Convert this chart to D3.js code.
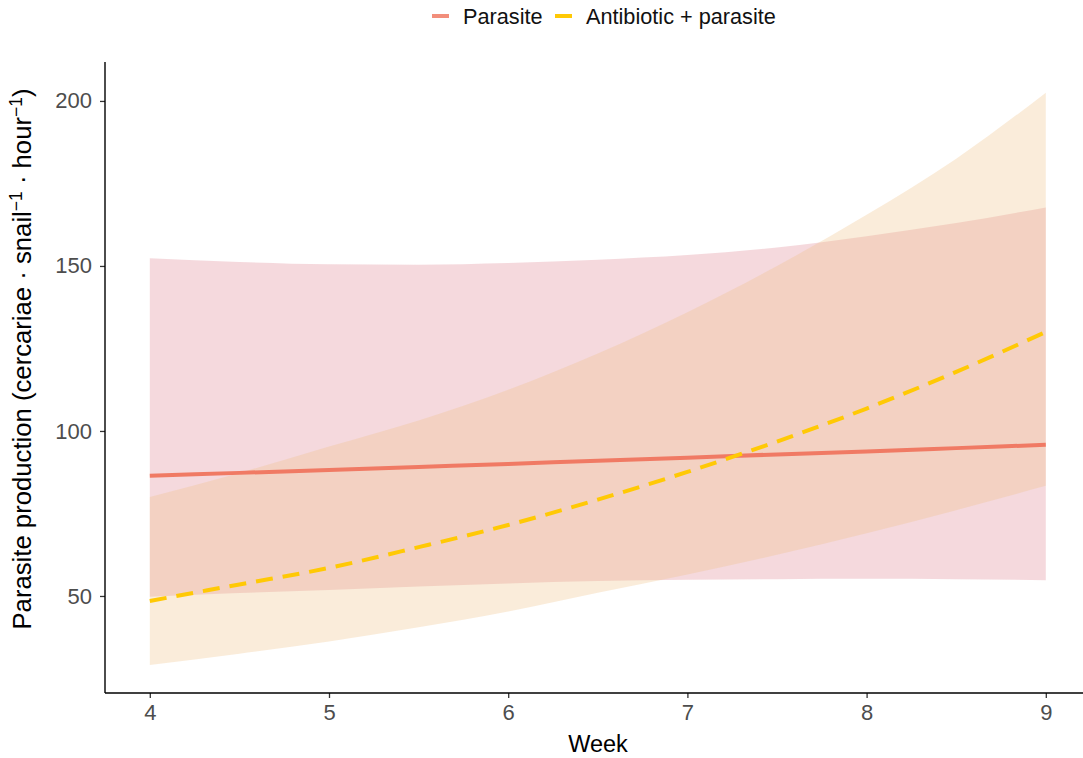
<!DOCTYPE html>
<html>
<head>
<meta charset="utf-8">
<script src="https://cdn.jsdelivr.net/npm/d3@7"></script>
<style>
  html, body { margin: 0; padding: 0; background: #fff; }
  svg { display: block; font-family: "Liberation Sans", Arial, sans-serif; }
</style>
</head>
<body>
<svg id="chart" width="1083" height="758"></svg>
<script>
// ---- data ----
const weeks = [4, 4.5, 5, 5.5, 6, 6.5, 7, 7.5, 8, 8.5, 9];
const seriesNames = ["Parasite", "Antibiotic + parasite"];
const parasiteFit   = [86.4, 87.3, 88.2, 89.1, 90.0, 91.0, 91.9, 92.9, 93.8, 94.8, 95.8];
const parasiteUpper = [152.3, 151.2, 150.5, 150.4, 150.9, 151.9, 153.3, 155.6, 159.0, 163.0, 167.7];
const parasiteLower = [49.8, 50.9, 51.8, 52.9, 53.8, 54.5, 54.9, 55.1, 55.2, 55.1, 54.8];
const antiFit   = [48.5, 53.5, 58.5, 64.8, 71.5, 79.2, 87.6, 96.8, 106.8, 117.9, 130.0];
const antiUpper = [80.0, 87.3, 95.3, 103.2, 112.5, 123.5, 136.0, 150.0, 165.5, 182.5, 202.5];
const antiLower = [29.1, 32.5, 36.2, 40.5, 45.3, 51.0, 56.5, 62.5, 69.0, 76.0, 83.4];
const xTicks = [4, 5, 6, 7, 8, 9];
const yTicks = [50, 100, 150, 200];

// ---- layout ----
const svg = d3.select("#chart");
const mLeft = 105, mRight = 1090.6, mTop = 62, mBottom = 693;
const x = d3.scaleLinear().domain([3.75, 9.25]).range([mLeft, mRight]);
const y = d3.scaleLinear().domain([20.6, 211.8]).range([mBottom, mTop]);

const colors = { para: "#F07A64", anti: "#FFC905" };
const fills  = { para: "#DE808E", anti: "#EEC084" };

function rows(fit, lo, hi) {
  return weeks.map((w, i) => ({ w, fit: fit[i], lo: lo[i], hi: hi[i] }));
}
const para = rows(parasiteFit, parasiteLower, parasiteUpper);
const anti = rows(antiFit, antiLower, antiUpper);

svg.append("defs").append("clipPath").attr("id", "clip")
  .append("rect").attr("x", mLeft).attr("y", mTop).attr("width", mRight - mLeft).attr("height", mBottom - mTop);

const plot = svg.append("g").attr("clip-path", "url(#clip)");

const area = d3.area().x(d => x(d.w)).y0(d => y(d.lo)).y1(d => y(d.hi)).curve(d3.curveMonotoneX);
const line = d3.line().x(d => x(d.w)).y(d => y(d.fit)).curve(d3.curveMonotoneX);

plot.append("path").datum(para).attr("d", area).attr("fill", fills.para).attr("fill-opacity", 0.3);
plot.append("path").datum(anti).attr("d", area).attr("fill", fills.anti).attr("fill-opacity", 0.3);

plot.append("path").datum(para).attr("d", line).attr("fill", "none")
  .attr("stroke", colors.para).attr("stroke-width", 4);
plot.append("path").datum(anti).attr("d", line).attr("fill", "none")
  .attr("stroke", colors.anti).attr("stroke-width", 4).attr("stroke-dasharray", "17,10");

// ---- axes ----
const xAxis = svg.append("g").attr("transform", `translate(0,${mBottom})`)
  .call(d3.axisBottom(x).tickValues(xTicks).tickFormat(d3.format("d")).tickSize(5).tickPadding(6));
const yAxis = svg.append("g").attr("transform", `translate(${mLeft},0)`)
  .call(d3.axisLeft(y).tickValues(yTicks).tickFormat(d3.format("d")).tickSize(5).tickPadding(8));

[xAxis, yAxis].forEach(g => {
  g.select(".domain").remove();
  g.selectAll(".tick line").attr("stroke", "#333").attr("stroke-width", 1.3);
  g.selectAll(".tick text").attr("fill", "#4D4D4D").attr("font-size", 22)
    .attr("font-family", "'Liberation Sans', Arial, sans-serif");
});
svg.append("line").attr("x1", mLeft).attr("x2", 1083).attr("y1", mBottom).attr("y2", mBottom)
  .attr("stroke", "#000").attr("stroke-width", 1.4);
svg.append("line").attr("x1", mLeft).attr("x2", mLeft).attr("y1", mTop).attr("y2", mBottom)
  .attr("stroke", "#000").attr("stroke-width", 1.4);

// axis titles
svg.append("text").attr("x", 598).attr("y", 752)
  .attr("text-anchor", "middle").attr("font-size", 23.5).attr("fill", "#000").text("Week");

const yt = svg.append("text").attr("transform", "translate(31,359) rotate(-90)")
  .attr("text-anchor", "middle").attr("font-size", 25.7).attr("fill", "#000");
yt.append("tspan").text("Parasite production (cercariae · snail");
yt.append("tspan").attr("font-size", 17.5).attr("dy", -9).text("−1");
yt.append("tspan").attr("dy", 9).text(" · hour");
yt.append("tspan").attr("font-size", 17.5).attr("dy", -9).text("−1");
yt.append("tspan").attr("dy", 9).text(")");

// ---- legend ----
const legend = svg.append("g");
const legItems = [
  { name: seriesNames[0], color: colors.para, x0: 432, tx: 463 },
  { name: seriesNames[1], color: colors.anti, x0: 555, tx: 586 }
];
legItems.forEach((it, i) => {
  legend.append("line").attr("x1", it.x0).attr("x2", it.x0 + 17).attr("y1", 16).attr("y2", 16)
    .attr("stroke", it.color).attr("stroke-width", 4).attr("stroke-opacity", i === 0 ? 0.85 : 1);
  legend.append("text").attr("x", it.tx).attr("y", 24)
    .attr("font-size", 21.7).attr("fill", "#111").text(it.name);
});
</script>
</body>
</html>
